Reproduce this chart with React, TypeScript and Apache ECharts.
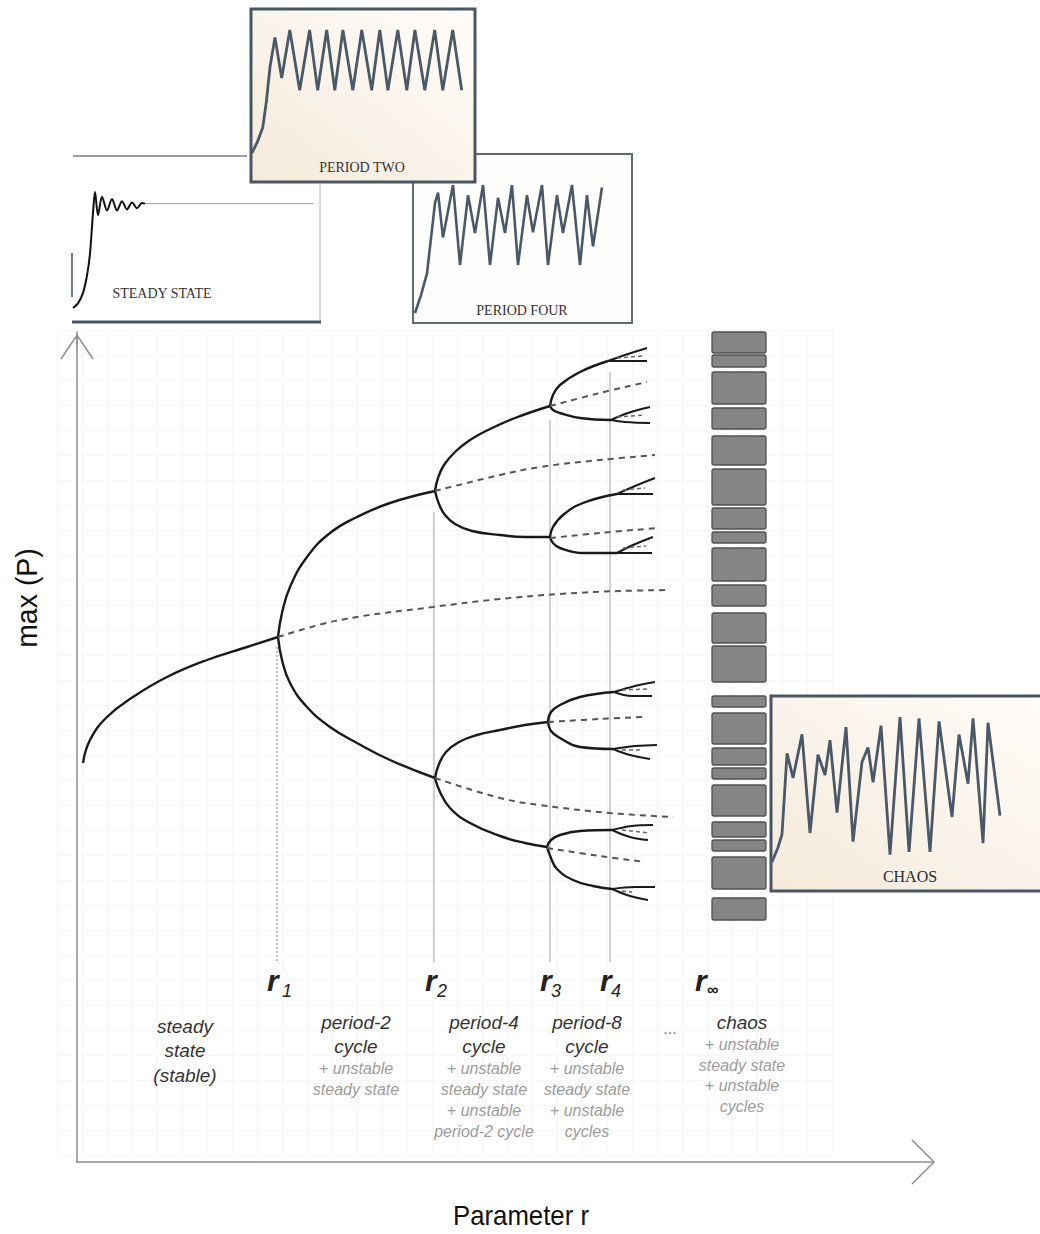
import React, { useEffect, useRef } from 'react';
import * as echarts from 'echarts';

// ---------- Bifurcation diagram data (x = parameter r units, y = max(P) units, origin at axes corner) ----------
const STEADY = [[6, 399], [13, 422], [30, 445], [56, 465], [90, 485], [130, 502], [170, 515], [201, 525]];
const R1_UPPER = [[201, 525], [205, 549], [213, 575], [230, 605], [253, 629], [280, 645], [313, 659], [358, 671]];
const R1_LOWER = [[201, 525], [205, 502], [213, 479], [230, 455], [253, 435], [280, 419], [313, 402], [358, 384]];
const R1_UNSTABLE = [[201, 525], [263, 542], [356, 555], [423, 563], [483, 568], [543, 571], [593, 572]];

const R2A_UPPER = [[358, 671], [361, 684], [367, 697], [378, 710], [393, 722], [413, 733], [438, 744], [473, 756]];
const R2A_LOWER = [[358, 671], [362, 658], [368, 647], [378, 638], [395, 631], [423, 627], [448, 625], [473, 625]];
const R2A_UNSTABLE = [[358, 671], [423, 687], [463, 695], [523, 702], [578, 707]];
const R2B_UPPER = [[358, 384], [362, 398], [369, 410], [382, 420], [400, 427], [423, 432], [448, 437], [471, 440]];
const R2B_LOWER = [[358, 384], [363, 370], [373, 354], [393, 339], [423, 326], [448, 319], [470, 315]];
const R2B_UNSTABLE = [[358, 384], [423, 364], [463, 357], [533, 349], [596, 345]];

const R3A_UPPER = [[473, 756], [476, 767], [483, 777], [503, 790], [531, 801]];
const R3A_LOWER = [[473, 756], [476, 752], [483, 749], [503, 744], [534, 742]];
const R3A_UNSTABLE = [[473, 756], [523, 769], [570, 780]];
const R3B_UPPER = [[473, 625], [476, 635], [486, 647], [506, 659], [540, 668]];
const R3B_LOWER = [[473, 625], [476, 619], [483, 614], [506, 609], [540, 609]];
const R3B_UNSTABLE = [[473, 624], [523, 629], [580, 634]];
const R3C_UPPER = [[471, 440], [474, 450], [483, 457], [503, 465], [537, 470]];
const R3C_LOWER = [[471, 440], [474, 431], [483, 424], [503, 415], [536, 413]];
const R3C_UNSTABLE = [[471, 440], [523, 443], [565, 445]];
const R3D_UPPER = [[470, 315], [474, 322], [483, 327], [503, 331], [535, 332]];
const R3D_LOWER = [[470, 315], [474, 304], [480, 293], [496, 282], [516, 276], [535, 273]];
const R3D_UNSTABLE = [[470, 314], [523, 306], [568, 300]];

const R4_UPPER = [
  [[531, 801], [548, 807], [570, 814]],
  [[534, 742], [551, 749], [573, 755]],
  [[540, 668], [558, 676], [578, 684]],
  [[540, 609], [556, 617], [576, 625]],
  [[537, 470], [558, 476], [578, 480]],
  [[536, 413], [558, 416], [580, 417]],
  [[535, 332], [555, 336], [576, 337]],
  [[535, 273], [558, 275], [578, 275]],
];
const R4_LOWER = [
  [[531, 801], [543, 801], [570, 801]],
  [[534, 742], [548, 740], [573, 739]],
  [[540, 668], [558, 668], [576, 668]],
  [[540, 609], [558, 609], [575, 609]],
  [[537, 470], [555, 466], [575, 466]],
  [[536, 413], [553, 407], [573, 403]],
  [[535, 332], [553, 325], [571, 322]],
  [[535, 273], [553, 266], [571, 262]],
];
const R4_UNSTABLE = [
  [[540, 804], [566, 806]],
  [[540, 745], [568, 747]],
  [[546, 672], [568, 674]],
  [[546, 614], [569, 616]],
  [[545, 472], [573, 473]],
  [[545, 412], [565, 412]],
  [[545, 332], [573, 329]],
  [[545, 271], [555, 270]],
];

// bifurcation points r1..r4 and where their guide lines start
const R_VALUES = [200, 357, 473, 533];
const R_LINE_TOPS = [515, 650, 742, 790];
const R_LINE_BOTTOM = 200;

// chaotic bands [low, high]
const CHAOS_BANDS = [[809, 830], [795, 807], [758, 790], [733, 754], [697, 726], [657, 693], [633, 654], [619, 630], [581, 614], [556, 577], [519, 549], [480, 516], [455, 466], [418, 449], [397, 414], [383, 394], [346, 377], [325, 340], [311, 322], [273, 305], [242, 264]];

// ---------- inset time series [time, population] ----------
const STEADY_SERIES = [[0, 0], [1, 0.04], [2, 0.13], [2.8, 0.28], [3.4, 0.47], [4, 0.82], [4.4, 1.0], [5, 0.8], [5.8, 0.96], [6.8, 0.84], [7.8, 0.94], [8.8, 0.84], [9.8, 0.92], [10.8, 0.85], [11.8, 0.91], [12.8, 0.86], [13.8, 0.905], [14.4, 0.9]];
const STEADY_LEVEL = [[14.4, 0.9], [48, 0.9]];
const PERIOD_TWO_SERIES = [[0, 0], [0.6, 0.09], [1.2, 0.21], [1.6, 0.42], [2, 0.7], [2.55, 0.94], [3.3, 0.61], [4.2, 1], [5.3, 0.51], [6.4, 1], [7.3, 0.51], [8.3, 1], [9.2, 0.51], [10.1, 1], [11.2, 0.51], [12.2, 1], [13.3, 0.51], [14.2, 1], [15.1, 0.51], [16.2, 1], [17.2, 0.51], [18.1, 1], [19.2, 0.51], [20.3, 1], [21.2, 0.51], [22.3, 1], [23.3, 0.51]];
const PERIOD_FOUR_SERIES = [[0, 0], [0.8, 0.14], [1.6, 0.31], [2.67, 0.86], [3.07, 0.94], [3.73, 0.59], [5.07, 1], [6, 0.375], [7.07, 0.92], [8, 0.625], [9.07, 1], [10, 0.375], [11.07, 0.9], [12, 0.625], [12.93, 1], [13.73, 0.375], [14.93, 0.92], [15.73, 0.63], [16.93, 1], [17.73, 0.375], [18.93, 0.92], [19.73, 0.625], [20.93, 1], [22, 0.375], [22.93, 0.92], [23.73, 0.52], [24.93, 0.98]];
const CHAOS_SERIES = [[0, 0], [0.75, 0.1], [1.25, 0.19], [1.88, 0.75], [2.63, 0.58], [3.75, 0.88], [4.75, 0.2], [5.75, 0.74], [6.63, 0.6], [7.25, 0.84], [8.13, 0.34], [9.25, 0.93], [10.13, 0.14], [11.25, 0.69], [12, 0.79], [12.63, 0.55], [13.63, 0.94], [14.75, 0.05], [16, 1], [17.13, 0.07], [18.38, 0.99], [19.75, 0.07], [20.88, 0.97], [22.5, 0.31], [23.38, 0.88], [24.5, 0.54], [25.13, 0.99], [26.38, 0.13], [27, 0.96], [28.5, 0.32]];

// ---------- texts ----------
const R_SUBSCRIPTS = ['1', '2', '3', '4', '∞'];
const REGION_TITLES = ['steady\nstate\n(stable)', 'period-2\ncycle', 'period-4\ncycle', 'period-8\ncycle', 'chaos'];
const REGION_NOTES = ['', '+ unstable\nsteady state', '+ unstable\nsteady state\n+ unstable\nperiod-2 cycle', '+ unstable\nsteady state\n+ unstable\ncycles', '+ unstable\nsteady state\n+ unstable\ncycles'];
const INSET_TITLES = ['STEADY STATE', 'PERIOD TWO', 'PERIOD FOUR', 'CHAOS'];
const X_TITLE = 'Parameter r';
const Y_TITLE = 'max (P)';

const SANS = "'Liberation Sans', Arial, Helvetica, sans-serif";
const SERIF = "'Liberation Serif', 'Times New Roman', serif";

const CHAOS_X_LEFT = 635;
const CHAOS_X_RIGHT = 689;

function buildOption() {
  const line = (data: number[][], lineStyle: any, smooth: number | boolean, axis = 0, z = 3) => ({
    type: 'line',
    xAxisIndex: axis,
    yAxisIndex: axis,
    data,
    symbol: 'none',
    showSymbol: false,
    smooth,
    silent: true,
    z,
    lineStyle,
  });

  const solid = { color: '#1a1a1a', width: 2.4 };
  const thin = { color: '#1a1a1a', width: 2 };
  const dashed = { color: '#555555', width: 2, type: [6, 5] };
  const tinyDash = { color: '#666666', width: 1.5, type: [4, 3] };

  const series: any[] = [];
  [STEADY, R1_UPPER, R1_LOWER, R2A_UPPER, R2A_LOWER, R2B_UPPER, R2B_LOWER,
    R3A_UPPER, R3A_LOWER, R3B_UPPER, R3B_LOWER, R3C_UPPER, R3C_LOWER, R3D_UPPER, R3D_LOWER]
    .forEach((d) => series.push(line(d, solid, 0.45)));
  [...R4_UPPER, ...R4_LOWER].forEach((d) => series.push(line(d, thin, 0.4)));
  [R1_UNSTABLE, R2A_UNSTABLE, R2B_UNSTABLE, R3A_UNSTABLE, R3B_UNSTABLE, R3C_UNSTABLE, R3D_UNSTABLE]
    .forEach((d) => series.push(line(d, dashed, 0.4)));
  R4_UNSTABLE.forEach((d) => series.push(line(d, tinyDash, false)));

  // r guide lines
  R_VALUES.forEach((r, i) => {
    series.push(line([[r, R_LINE_TOPS[i]], [r, R_LINE_BOTTOM]],
      i === 0 ? { color: '#a8a8a8', width: 1.5, type: [2, 2] } : { color: '#c2c2c2', width: 1.5 }, false, 0, 2));
  });

  // chaotic bands
  series.push({
    type: 'custom',
    xAxisIndex: 0,
    yAxisIndex: 0,
    data: CHAOS_BANDS,
    clip: false,
    silent: true,
    z: 3,
    renderItem: (_p: any, api: any) => {
      const lo = api.value(0);
      const hi = api.value(1);
      const a = api.coord([CHAOS_X_LEFT, hi]);
      const b = api.coord([CHAOS_X_RIGHT, lo]);
      return {
        type: 'rect',
        shape: { x: a[0], y: a[1], width: b[0] - a[0], height: b[1] - a[1], r: 2 },
        style: { fill: '#858585', stroke: '#505050', lineWidth: 1.3 },
      };
    },
  });

  // insets
  series.push(line(STEADY_SERIES, { color: '#111111', width: 2 }, 0.3, 2, 6));
  series.push(line(STEADY_LEVEL, { color: '#9a9a9a', width: 1 }, false, 2, 6));
  series.push(line(PERIOD_TWO_SERIES, { color: '#4a5868', width: 2.8 }, false, 3, 6));
  series.push(line(PERIOD_FOUR_SERIES, { color: '#4a5868', width: 2.6 }, false, 4, 6));
  series.push(line(CHAOS_SERIES, { color: '#4a5868', width: 2.8 }, false, 5, 6));

  const hidden = (min: number, max: number, gridIndex: number) => ({
    type: 'value', gridIndex, min, max, show: false,
  });

  const cream = () => new echarts.graphic.LinearGradient(0, 1, 1, 0, [
    { offset: 0, color: '#f5eadb' },
    { offset: 1, color: '#fffdfa' },
  ]);

  const graphic: any[] = [
    // steady state inset frame
    { type: 'line', z: 1, shape: { x1: 73, y1: 156, x2: 247, y2: 156 }, style: { stroke: '#7a7a7a', lineWidth: 1.5 } },
    { type: 'line', z: 1, shape: { x1: 320, y1: 184, x2: 320, y2: 323 }, style: { stroke: '#b4b4b4', lineWidth: 1 } },
    { type: 'line', z: 1, shape: { x1: 72, y1: 322, x2: 321, y2: 322 }, style: { stroke: '#4b5663', lineWidth: 3 } },
    { type: 'line', z: 1, shape: { x1: 72, y1: 253, x2: 72, y2: 297 }, style: { stroke: '#6d7b8a', lineWidth: 2 } },
    // period four frame
    { type: 'rect', z: 1, shape: { x: 413, y: 154, width: 219, height: 169 }, style: { fill: '#fdfdfc', stroke: '#5f6974', lineWidth: 2 } },
    // period two frame
    { type: 'rect', z: 2, shape: { x: 251, y: 9, width: 224, height: 173 }, style: { fill: cream(), stroke: '#4b5663', lineWidth: 3 } },
    // chaos frame
    { type: 'rect', z: 2, shape: { x: 771, y: 696, width: 290, height: 195 }, style: { fill: cream(), stroke: '#4b5663', lineWidth: 3 } },
    // inset captions
    { type: 'text', z: 20, x: 162, y: 293, style: { text: INSET_TITLES[0], font: `14px ${SERIF}`, fill: '#333', align: 'center', verticalAlign: 'middle' } },
    { type: 'text', z: 20, x: 362, y: 167, style: { text: INSET_TITLES[1], font: `14px ${SERIF}`, fill: '#333', align: 'center', verticalAlign: 'middle' } },
    { type: 'text', z: 20, x: 522, y: 310, style: { text: INSET_TITLES[2], font: `14px ${SERIF}`, fill: '#333', align: 'center', verticalAlign: 'middle' } },
    { type: 'text', z: 20, x: 910, y: 876, style: { text: INSET_TITLES[3], font: `16px ${SERIF}`, fill: '#2a2a2a', align: 'center', verticalAlign: 'middle' } },
    // axis arrowheads
    { type: 'polyline', z: 5, shape: { points: [[61, 359], [77, 335], [93, 359]] }, style: { stroke: '#8c8c8c', lineWidth: 1.5, fill: null } },
    { type: 'line', z: 5, shape: { x1: 77, y1: 336, x2: 77, y2: 345 }, style: { stroke: '#8c8c8c', lineWidth: 1.5 } },
    { type: 'polyline', z: 5, shape: { points: [[912, 1140], [934, 1162], [912, 1184]] }, style: { stroke: '#8c8c8c', lineWidth: 1.5, fill: null } },
    // axis titles
    { type: 'text', z: 20, x: 27, y: 598, rotation: Math.PI / 2, scaleX: 0.95, style: { text: Y_TITLE, font: `30px ${SANS}`, fill: '#111', align: 'center', verticalAlign: 'middle' } },
    { type: 'text', z: 20, x: 521, y: 1216, scaleX: 0.92, style: { text: X_TITLE, font: `28px ${SANS}`, fill: '#111', align: 'center', verticalAlign: 'middle' } },
    { type: 'text', z: 20, x: 670, y: 1028, style: { text: '...', font: `16px ${SANS}`, fill: '#777', align: 'center', verticalAlign: 'middle' } },
  ];

  // r labels
  const rLeft = [267, 425, 540, 600, 695];
  const subLeft = [282, 437, 551, 611, 707];
  R_SUBSCRIPTS.forEach((s, i) => {
    graphic.push({ type: 'text', z: 20, x: rLeft[i], y: 980, style: { text: 'r', font: `italic bold 30px ${SANS}`, fill: '#222', align: 'left', verticalAlign: 'middle' } });
    graphic.push({ type: 'text', z: 20, x: subLeft[i], y: i === 4 ? 989 : 991, style: { text: s, font: `italic ${i === 4 ? 'bold 16px' : '18px'} ${SANS}`, fill: '#222', align: 'left', verticalAlign: 'middle' } });
  });

  // region descriptions
  const regionX = [185, 356, 484, 587, 742];
  REGION_TITLES.forEach((t, i) => {
    graphic.push({ type: 'text', z: 20, x: regionX[i], y: i === 0 ? 1014 : 1010, style: { text: t, font: `italic 19px ${SANS}`, lineHeight: i === 0 ? 24.5 : 24, fill: '#333333', align: 'center', verticalAlign: 'top' } });
    if (REGION_NOTES[i]) {
      graphic.push({ type: 'text', z: 20, x: regionX[i], y: i === 4 ? 1034 : 1057.5, style: { text: REGION_NOTES[i], font: `italic 16px ${SANS}`, lineHeight: i === 4 ? 20.7 : 21, fill: '#9c9c9c', align: 'center', verticalAlign: 'top' } });
    }
  });

  return {
    animation: false,
    backgroundColor: '#ffffff',
    grid: [
      { left: 77, top: 332, width: 855, height: 830 },
      { left: 57, top: 330, width: 775, height: 825 },
      { left: 73, top: 192, width: 250, height: 116 },
      { left: 252, top: 30, width: 216, height: 123 },
      { left: 415, top: 185, width: 225, height: 128 },
      { left: 772, top: 717, width: 256, height: 145 },
    ],
    xAxis: [
      {
        type: 'value', gridIndex: 0, min: 0, max: 855,
        axisLine: { show: true, onZero: false, lineStyle: { color: '#8c8c8c', width: 1.5 } },
        axisTick: { show: false }, axisLabel: { show: false }, splitLine: { show: false },
      },
      {
        type: 'value', gridIndex: 1, min: 0, max: 775, interval: 25,
        axisLine: { show: false }, axisTick: { show: false }, axisLabel: { show: false },
        splitLine: { show: true, lineStyle: { color: '#f7f7f7', width: 1 } },
      },
      hidden(0, 50, 2),
      hidden(0, 24, 3),
      hidden(0, 30, 4),
      hidden(0, 32, 5),
    ],
    yAxis: [
      {
        type: 'value', gridIndex: 0, min: 0, max: 830,
        axisLine: { show: true, onZero: false, lineStyle: { color: '#8c8c8c', width: 1.5 } },
        axisTick: { show: false }, axisLabel: { show: false }, splitLine: { show: false },
      },
      {
        type: 'value', gridIndex: 1, min: 0, max: 825, interval: 25,
        axisLine: { show: false }, axisTick: { show: false }, axisLabel: { show: false },
        splitLine: { show: true, lineStyle: { color: '#f7f7f7', width: 1 } },
      },
      hidden(0, 1, 2),
      hidden(0, 1, 3),
      hidden(0, 1, 4),
      hidden(0, 1, 5),
    ],
    series,
    graphic,
  };
}

export default function App() {
  const ref = useRef<HTMLDivElement>(null);
  useEffect(() => {
    if (!ref.current) return;
    const chart = echarts.init(ref.current, undefined, { renderer: 'svg' });
    chart.setOption(buildOption() as any);
    return () => chart.dispose();
  }, []);
  return (
    <div
      ref={ref}
      style={{ position: 'absolute', left: 0, top: 0, width: 1040, height: 1234, background: '#ffffff' }}
    />
  );
}
